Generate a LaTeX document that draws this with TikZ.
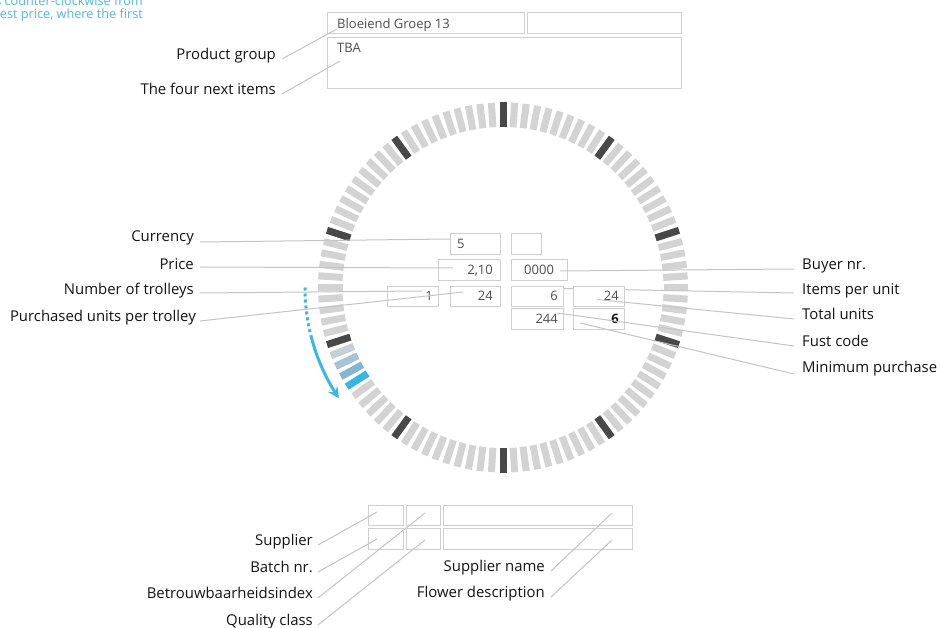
\documentclass[tikz,border=0pt]{standalone}
\usepackage{fontspec}
\setmainfont{Open Sans}
\usetikzlibrary{arrows.meta}
\definecolor{lbl}{HTML}{141414}
\definecolor{boxtext}{HTML}{4D4D4D}
\definecolor{boxline}{HTML}{CFCFCF}
\definecolor{conn}{HTML}{C4C4C4}
\definecolor{ticklight}{HTML}{D3D3D3}
\definecolor{tickdark}{HTML}{484848}
\definecolor{bl1}{HTML}{C4D0DA}
\definecolor{bl2}{HTML}{A6C4D8}
\definecolor{bl3}{HTML}{82B6D4}
\definecolor{bl4}{HTML}{35B6E6}
\definecolor{arrowblue}{HTML}{38B8E8}
\definecolor{noteblue}{HTML}{4DB9E2}
\begin{document}
\begin{tikzpicture}[x=1pt,y=-1pt,
  label/.style={text=lbl,font=\fontsize{14.9}{17}\selectfont,inner sep=0pt},
  fld/.style={draw=boxline,line width=1.2pt,fill=white,inner sep=0pt,anchor=north west},
  fldtxt/.style={text=boxtext,font=\fontsize{13}{15}\selectfont,inner sep=0pt},
  conline/.style={draw=conn,line width=1pt},
  ringtick/.style={line width=7pt},
  note/.style={text=noteblue,font=\fontsize{12.7}{14}\selectfont,inner sep=0pt}]
\useasboundingbox (0,0) rectangle (940,628);
\clip (0,0) rectangle (940,628);
\fill[white] (0,0) rectangle (940,628);

% note text (cut off at top-left)
\node[note,anchor=base east] (n1) at (143,6) {s counter-clockwise from};
\node[note,anchor=base east] (n2) at (143,19) {est price, where the first};

% clock ring
\foreach \i in {0,...,99}{
  \pgfmathsetmacro\t{3.6*\i}
  \draw[ringtick,draw=ticklight] ({503+160.5*sin(\t)},{287.5-160.5*cos(\t)}) -- ({503+185*sin(\t)},{287.5-185*cos(\t)});
}
\foreach \i in {0,...,9}{
  \pgfmathsetmacro\t{36*\i}
  \draw[ringtick,draw=tickdark] ({503+160.5*sin(\t)},{287.5-160.5*cos(\t)}) -- ({503+185*sin(\t)},{287.5-185*cos(\t)});
}
\foreach \t/\c in {248.4/bl1,244.8/bl2,241.2/bl3,237.6/bl4}{
  \draw[ringtick,draw=\c] ({503+160.5*sin(\t)},{287.5-160.5*cos(\t)}) -- ({503+185*sin(\t)},{287.5-185*cos(\t)});
}

% blue arrow
\draw[arrowblue,line width=3pt,dash pattern=on 3pt off 3pt] plot[domain=270:256,samples=30] ({503+198*sin(\x)},{287.5-198*cos(\x)});
\draw[arrowblue,line width=3pt,-{Stealth[length=11pt,width=11pt,inset=4pt]}] plot[domain=256:236,samples=30] ({503+198*sin(\x)},{287.5-198*cos(\x)});

% line hidden under boxes
\coordinate (ipu) at (563,288.5);
\node[label,anchor=mid west] (Litems) at (802,292) {Items per unit};
\draw[conline] (ipu) -- ([xshift=-8pt,yshift=-1pt]Litems.mid west);

% top boxes
\node[fld,minimum width=197pt,minimum height=21pt] (pg) at (327,12) {};
\node[fld,minimum width=154pt,minimum height=21pt] (pg2) at (527,12) {};
\node[fld,minimum width=354pt,minimum height=51pt] (nxt) at (327,37) {};
\node[fldtxt,anchor=base west] (pgt) at (337,29) {Bloeiend Groep 13};
\node[fldtxt,anchor=base west] (nxtt) at (337,53) {TBA};

% centre boxes
\node[fld,minimum width=50pt,minimum height=21pt] (cur) at (450,233) {};
\node[fld,minimum width=30pt,minimum height=21pt] (emp) at (511,233) {};
\node[fld,minimum width=62pt,minimum height=21pt] (pri) at (438,259) {};
\node[fld,minimum width=56pt,minimum height=21pt] (buy) at (511,259) {};
\node[fld,minimum width=51pt,minimum height=20pt] (trl) at (387,286) {};
\node[fld,minimum width=50pt,minimum height=20pt] (upt) at (450,286) {};
\node[fld,minimum width=52pt,minimum height=20pt] (six) at (511,286) {};
\node[fld,minimum width=51pt,minimum height=20pt] (ipb) at (573,286) {};
\node[fld,minimum width=52pt,minimum height=21pt] (tot) at (511,308) {};
\node[fld,minimum width=51pt,minimum height=21pt] (fst) at (573,308) {};
\node[fldtxt,anchor=base west] at (457,249) {5};
\node[fldtxt,anchor=base east] at (493,275) {2,10};
\node[fldtxt,anchor=base west] at (524,275) {0000};
\node[fldtxt,anchor=base east] at (433,301) {1};
\node[fldtxt,anchor=base east] at (493,301) {24};
\node[fldtxt,anchor=base east] at (558,301) {6};
\node[fldtxt,anchor=base east] at (619,301) {24};
\node[fldtxt,anchor=base east] at (558,324) {244};
\node[fldtxt,anchor=base east,text=lbl,font=\fontsize{13}{15}\selectfont\bfseries] at (619,324) {6};

% bottom boxes
\node[fld,minimum width=35pt,minimum height=20pt] (sa) at (368,505) {};
\node[fld,minimum width=34pt,minimum height=20pt] (sb) at (406,505) {};
\node[fld,minimum width=189pt,minimum height=20pt] (sc) at (443,505) {};
\node[fld,minimum width=35pt,minimum height=21pt] (ta) at (368,528) {};
\node[fld,minimum width=34pt,minimum height=21pt] (tb) at (406,528) {};
\node[fld,minimum width=189pt,minimum height=21pt] (tc) at (443,528) {};

% labels
\node[label,anchor=mid east] (Lpg) at (276,57) {Product group};
\node[label,anchor=mid east] (Lnx) at (276,92) {The four next items};
\node[label,anchor=mid east] (Lcur) at (194,239) {Currency};
\node[label,anchor=mid east] (Lpri) at (194,267) {Price};
\node[label,anchor=mid east] (Ltrl) at (194,292) {Number of trolleys};
\node[label,anchor=mid east] (Lupt) at (196,319) {Purchased units per trolley};
\node[label,anchor=mid west] (Lbuy) at (802,267) {Buyer nr.};
\node[label,anchor=mid west] (Ltot) at (802,317) {Total units};
\node[label,anchor=mid west] (Lfst) at (802,344) {Fust code};
\node[label,anchor=mid west] (Lmin) at (802,370) {Minimum purchase};
\node[label,anchor=mid east] (Lsup) at (313,543) {Supplier};
\node[label,anchor=mid east] (Lbat) at (313,570) {Batch nr.};
\node[label,anchor=mid east] (Lbet) at (313,596) {Betrouwbaarheidsindex};
\node[label,anchor=mid east] (Lqc) at (313,623) {Quality class};
\node[label,anchor=mid east] (Lsn) at (545,569) {Supplier name};
\node[label,anchor=mid east] (Lfd) at (545,595) {Flower description};

% connector end points
\coordinate (epg) at (337,29);
\coordinate (enx) at (340,61);
\coordinate (ecur) at (450,239);
\coordinate (epri) at (453,268);
\coordinate (etrl) at (422,291);
\coordinate (eupt) at (463,292);
\coordinate (ebuy) at (560,271);
\coordinate (etot) at (597,299.5);
\coordinate (efst) at (557,313);
\coordinate (emin) at (580,323);
\coordinate (esup) at (377,512);
\coordinate (ebat) at (377,539);
\coordinate (ebet) at (425,513);
\coordinate (eqc) at (425,540);
\coordinate (esn) at (612,513);
\coordinate (efd) at (612,540);

% connectors
\draw[conline] ([xshift=6pt,yshift=-2pt]Lpg.mid east) -- (epg);
\draw[conline] ([xshift=6pt,yshift=-2pt]Lnx.mid east) -- (enx);
\draw[conline] ([xshift=6pt,yshift=-3pt]Lcur.mid east) -- (ecur);
\draw[conline] ([xshift=6pt]Lpri.mid east) -- (epri);
\draw[conline] ([xshift=6pt,yshift=-1pt]Ltrl.mid east) -- (etrl);
\draw[conline] ([xshift=4pt,yshift=-2pt]Lupt.mid east) -- (eupt);
\draw[conline] ([xshift=-8pt,yshift=-2pt]Lbuy.mid west) -- (ebuy);
\draw[conline] ([xshift=-8pt,yshift=-2pt]Ltot.mid west) -- (etot);
\draw[conline] ([xshift=-8pt,yshift=-2pt]Lfst.mid west) -- (efst);
\draw[conline] ([xshift=-8pt,yshift=-4pt]Lmin.mid west) -- (emin);
\draw[conline] ([xshift=5pt,yshift=-2pt]Lsup.mid east) -- (esup);
\draw[conline] ([xshift=5pt,yshift=-2pt]Lbat.mid east) -- (ebat);
\draw[conline] ([xshift=5pt,yshift=-2pt]Lbet.mid east) -- (ebet);
\draw[conline] ([xshift=5pt,yshift=-2pt]Lqc.mid east) -- (eqc);
\draw[conline] ([xshift=6pt,yshift=-2pt]Lsn.mid east) -- (esn);
\draw[conline] ([xshift=6pt,yshift=-2pt]Lfd.mid east) -- (efd);
\end{tikzpicture}
\end{document}
